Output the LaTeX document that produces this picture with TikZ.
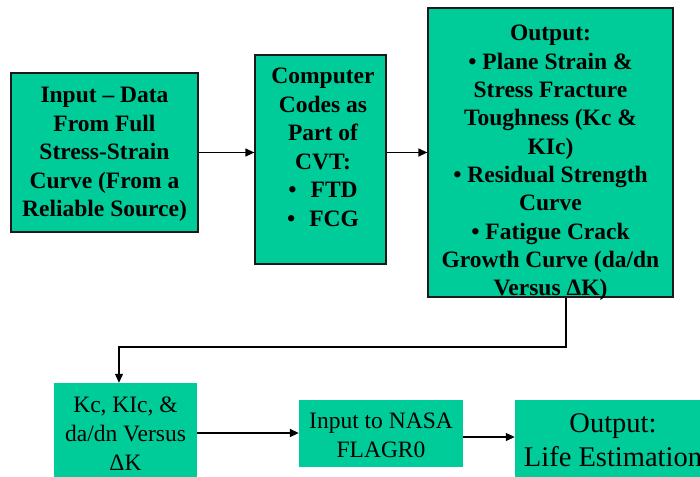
\documentclass[tikz,border=0pt]{standalone}
\usepackage{fontspec}
\setmainfont{Liberation Serif}
\usetikzlibrary{arrows.meta}
\definecolor{boxgreen}{HTML}{00CC99}
\tikzset{
  stepbox/.style={draw=black!90, line width=1.3pt, fill=boxgreen, inner sep=0pt},
  flatbox/.style={draw=none, fill=boxgreen, inner sep=0pt},
  boldtxt/.style={align=center, inner sep=0pt, font=\fontsize{23.5}{28.5}\selectfont\bfseries},
  plaintxt/.style={align=center, inner sep=0pt, font=\fontsize{23.5}{29}\selectfont},
  bigtxt/.style={align=center, inner sep=0pt, font=\fontsize{28.5}{34}\selectfont},
  arr/.style={-{Triangle[length=9pt,width=8pt]}, line width=1.3pt},
}
\begin{document}
\begin{tikzpicture}[x=1pt, y=-1pt]
  \useasboundingbox (0,0) rectangle (700,476);
  \clip (0,0) rectangle (700,476);

  % upper row
  \node[stepbox, minimum width=187pt, minimum height=159pt] (b1) at (104.5,152.5) {};
  \node[boldtxt] (t1) at (104.5,154.5) {Input -- Data\\From Full\\Stress-Strain\\Curve (From a\\Reliable Source)};

  \node[stepbox, minimum width=131pt, minimum height=209pt] (b2) at (320.5,159.5) {};
  \node[boldtxt] (t2) at (323,147.5) {Computer\\Codes as\\Part of\\CVT:\\\textbullet\hspace{0.6em}FTD\\\textbullet\hspace{0.6em}FCG};

  \node[stepbox, minimum width=245pt, minimum height=289pt] (b3) at (550.5,152.5) {};
  \node[boldtxt, font=\fontsize{23.5}{28.3}\selectfont\bfseries] (t3) at (550.5,163) {Output:\\\textbullet{} Plane Strain \&\\Stress Fracture\\Toughness (Kc \&\\KIc)\\\textbullet{} Residual Strength\\Curve\\\textbullet{} Fatigue Crack\\Growth Curve (da/dn\\Versus ΔK)};

  % lower row
  \node[flatbox, minimum width=143pt, minimum height=100pt] (b4) at (125.5,433) {};
  \node[plaintxt] (t4) at (125.5,434) {Kc, KIc, \&\\da/dn Versus\\ΔK};

  \node[flatbox, minimum width=164pt, minimum height=67pt] (b5) at (381,433.5) {};
  \node[plaintxt] (t5) at (381,435.5) {Input to NASA\\FLAGR0};

  \node[flatbox, minimum width=196pt, minimum height=80pt] (b6) at (613,440) {};
  \node[bigtxt] (t6) at (613,440.5) {Output:\\Life Estimation};

  % connectors
  \draw[arr] (b1.east) -- (b2.west |- b1.east);
  \draw[arr] (b2.east |- b1.east) -- (b3.west |- b1.east);

  \coordinate (turn) at (566,347);
  \coordinate (drop) at (119,347);
  \draw[arr, line width=1.1pt] (b3.south -| turn) -- (turn) -- (drop) -- (drop |- b4.north);

  \draw[arr, line width=1.8pt] (b4.east) -- (b5.west |- b4.east);
  \coordinate (lowout) at ([yshift=-3.5pt]b5.east);
  \draw[arr, line width=1.1pt] (lowout) -- (b6.west |- lowout);
\end{tikzpicture}
\end{document}
